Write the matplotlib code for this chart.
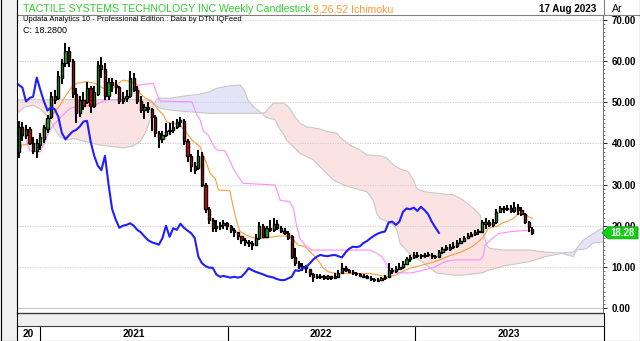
import pandas as pd
import matplotlib
matplotlib.use("Agg")
import matplotlib.pyplot as plt
from matplotlib.lines import Line2D
from matplotlib.patches import Rectangle, Polygon

plt.rcParams["font.family"] = ["Liberation Sans", "DejaVu Sans"]

# weekly candles, first week ending 20 Nov 2020, last week ending 18 Aug 2023
dates = pd.date_range("2020-11-20", periods=144, freq="W-FRI")

opens = [38, 44, 42, 43.5, 40, 38.2, 39.5, 41, 43.5, 46.5, 51.5, 51,
         56, 59.5, 62.5, 60, 52, 47.5, 50.5, 50, 53.5, 49, 52, 59,
         58, 51.5, 55, 54.2, 53.6, 50.2, 51, 51.4, 56, 53, 50.2, 48,
         48.8, 48.3, 46.5, 42.5, 41, 42, 42.9, 43.3, 44.1, 45.3, 45.5, 40.5,
         37, 34.6, 34, 37, 30, 24, 21.5, 19.5, 20, 20.2, 20.6, 20,
         19, 18.4, 17.4, 16.5, 16, 15.5, 15.4, 17, 20, 17.3, 19.4, 19,
         20.5, 19.5, 18.8, 18.2, 17.5, 12.5, 10.9, 10.2, 9.8, 9.5, 8.2, 7.6,
         7.8, 7.6, 7.4, 7.6, 7.4, 7.6, 8.5, 9.7, 9.2, 8.8, 8.5, 8.2,
         7.8, 7.6, 7.4, 7, 6.6, 6.8, 7.2, 7.5, 9.2, 9, 9.6, 10,
         10.8, 11.8, 12.5, 12.9, 12.7, 12.6, 12.8, 12.9, 12.6, 12.3, 13.5, 14.4,
         14.3, 14.8, 15, 15.8, 16.3, 17, 17.6, 18.1, 18.4, 18.6, 20.5, 21,
         20.2, 21, 23.4, 24.2, 24, 24.4, 23.6, 24.6, 23.8, 22.8, 21, 19.3]
highs = [45.5, 45.2, 44.5, 44, 41.5, 41, 42.5, 44.5, 47, 52.5, 53, 57.5,
         60.5, 64.5, 63.5, 60.5, 53.5, 51.5, 52.5, 55, 54, 54, 60, 61,
         59.5, 56, 56, 55.5, 54, 52.5, 53, 57.5, 57, 54, 51.5, 49.5,
         50, 48.5, 47, 43, 43, 45, 45, 45.5, 46, 46.5, 46, 41,
         37.5, 35.5, 38.4, 38, 30.5, 24.5, 22, 21.5, 21, 21.4, 21, 20.2,
         19.5, 18.6, 17.6, 17, 16.5, 16.2, 18, 21, 20.5, 20, 21.5, 21.8,
         21.5, 20, 19.5, 18.8, 17.8, 14.6, 11.5, 10.9, 10.5, 9.5, 8.5, 8.3,
         8.2, 8, 8, 7.9, 8.5, 9.2, 10.9, 10.2, 9.5, 9.2, 8.8, 8.6,
         8.2, 8, 7.8, 7.4, 7.3, 7.6, 8, 11, 9.8, 10.2, 10.9, 11.5,
         12.4, 13, 13.5, 13.5, 13.2, 13.4, 13.6, 13.3, 13, 14, 14.8, 15.4,
         15.6, 16, 16.5, 17, 17.6, 18.2, 18.6, 18.9, 19.2, 21.4, 22, 21.4,
         21.6, 24, 24.8, 24.8, 25, 25, 25.8, 25.4, 24.5, 23, 21.2, 19.6]
lows = [36.5, 40.5, 41, 39.5, 37.5, 36.5, 38.5, 40, 42.5, 46, 49.5, 50.5,
        54.5, 58.5, 58.5, 51, 45, 46.5, 48, 49.5, 47.5, 48.5, 51.5, 56,
        50.5, 50.5, 52.5, 52, 49.5, 49.5, 50, 51, 52.5, 49.5, 47.5, 46,
        47.5, 43, 41.5, 39, 40, 41.5, 42, 42.5, 43.5, 44, 39.5, 35.5,
        33, 32.5, 33.5, 29.5, 23, 20.5, 18.5, 18.5, 19, 19.3, 19, 18.3,
        17.3, 16.5, 15.5, 15, 14.8, 14, 15, 16.5, 17, 17, 18.5, 18.5,
        19, 18.3, 17.8, 16.5, 12, 10.3, 9.5, 9, 8.5, 7.5, 6.3, 7,
        7, 6.8, 6.9, 6.8, 7, 7.4, 8.3, 8.8, 8.5, 8, 7.8, 7.5,
        7.2, 7, 6.6, 6.3, 6.3, 6.5, 6.9, 7.3, 8.3, 8.6, 9.2, 9.6,
        10.5, 11.3, 12, 12.1, 12, 12.2, 12.3, 12, 11.8, 12.1, 13.2, 13.8,
        13.9, 14.4, 14.6, 15.5, 16, 16.8, 17.2, 17.6, 17.8, 18.2, 19.3, 19.7,
        19.8, 20.5, 23, 23.2, 23.5, 23.2, 23.2, 22.6, 22.4, 20.5, 18.5, 17.7]
closes = [44, 42, 43.5, 40, 38.2, 40, 41.5, 44, 46.2, 51.5, 50.5, 56.5,
          59.5, 62.5, 60, 52, 47.5, 50.5, 49, 53.5, 49, 52.5, 59, 58,
          51.5, 55, 54.2, 53.6, 50.2, 51, 51.4, 56, 53, 50.2, 48, 48.8,
          48.3, 46.5, 42.5, 41, 42, 42.9, 43.3, 44.1, 45.3, 45.5, 40.5, 37,
          34.6, 33.5, 37, 30, 24, 21.5, 19.5, 20, 20.2, 20.6, 20, 19,
          18.4, 17.4, 16.5, 16, 15.7, 15.4, 17, 20, 17.3, 19.4, 19, 20.5,
          19.5, 18.8, 18.2, 17, 12.5, 10.9, 10.2, 9.8, 9.8, 8.2, 7.6, 7.8,
          7.6, 7.4, 7.6, 7.4, 7.6, 8.5, 9.7, 9.2, 8.8, 8.5, 8.2, 7.8,
          7.6, 7.4, 7, 6.8, 6.8, 7.2, 7.6, 9.2, 9, 9.6, 10, 10.8,
          11.8, 12.5, 12.9, 12.7, 12.6, 12.8, 12.9, 12.6, 12.3, 13.5, 14.4, 14.9,
          14.8, 15, 15.8, 16.3, 17, 17.6, 18.1, 18.4, 18.6, 20.8, 21, 20.2,
          21, 23.4, 24.2, 24, 24.4, 23.6, 24.6, 23.8, 22.8, 21, 19.6, 18.28]

# Ichimoku lines (week number, value)
tenkan_wk = [0, 0.8, 4.5, 5.9, 6.4, 6.8, 7.8, 8.7, 10.1, 11.5, 12.9, 14.7, 16.1,
             18.9, 21.2, 23.5, 25.9, 27.7, 29.1, 31, 32.8, 33.8, 35.2, 36.5,
             37.9, 38.9, 40.3, 41.2, 42.6, 44.9, 46.8, 48.2, 50.5, 51.9, 53.3,
             54.7, 55.6, 58.8, 59.7, 60.7, 61.6, 63.5, 64.9, 66.7, 68.6, 72.3,
             75.1, 76.1, 76.9, 77.9, 79.7, 81.1, 82.5, 83.9, 84.8, 86.2, 88.1,
             92.3, 97.8, 101.5, 103.4, 104.8, 106.7, 109, 112.7, 117.3, 118.7,
             123.4, 126.2, 128, 129.4, 130.8, 133.1, 134.5, 136.4, 137.7, 138.7,
             139.6, 141, 141.9, 143]
tenkan = [37, 39.6, 40, 40, 41.6, 44, 45.3, 46.5, 47.7, 49.3, 51.4, 53.6, 54.6,
          55, 54.6, 53.4, 53, 54.6, 55.4, 55, 54.4, 52.2, 51, 50.5,
          49.3, 48.1, 46.9, 45.3, 44.9, 44.5, 42.5, 40.8, 39.2, 36, 32.7,
          31.5, 28.7, 28.5, 24.6, 21, 18.6, 17.7, 17.2, 16.9, 17, 17.5,
          17.5, 17, 16.1, 15.3, 14.9, 13.7, 12.5, 10.9, 9.7, 8.8, 8.5,
          8.4, 8.4, 7.8, 7.6, 8, 8.8, 9.7, 10.5, 11.7, 12.3,
          13.7, 14.9, 16.1, 17.3, 19.4, 19.8, 20.6, 21.2, 21.8, 22.6,
          23, 23, 22.2, 21.8]
kijun_wk = [-0.5, 0.9, 1.7, 3.1, 5.9, 7.3, 8.2, 9.6, 10.6, 12.4, 14.3, 16.1,
            21.2, 23.1, 24.9, 30.4, 31.9, 33.3, 37.5, 38.4, 39.3, 48.2, 49.6,
            50.5, 51.4, 52.8, 54.2, 55.1, 57.4, 58.4, 59.7, 61.1, 62.5, 71.4,
            72.8, 75.5, 76.5, 77.4, 78.3, 79.7, 81.6, 97.8, 99.7, 101.1, 102,
            102.9, 104.2, 109, 111.8, 115.9, 118.7, 121.5, 128.5, 129.3, 129.9,
            131.3, 133.6, 137.3, 143]
kijun = [42.3, 42, 41.6, 38.2, 37.9, 40.4, 42.5, 44.5, 45.3, 47, 48.5, 48.9,
         49.3, 50.1, 50.6, 50.6, 52.6, 54.2, 54.6, 52.2, 50.3, 50.1, 46.9,
         45.7, 43, 42, 39.5, 38.4, 38.2, 36.5, 34, 32, 30.3, 29.9,
         26.2, 25.8, 24.2, 19.8, 16.9, 15.3, 14.1, 14.1, 13.3, 12.5, 11.3,
         9.5, 8.6, 8.5, 9, 10, 11.3, 11.7, 11.7, 12.5, 15.3,
         16.5, 18.1, 18.6, 19]

cloud_wk = [-0.5, 1.7, 4, 6.4, 8.7, 10.1, 11.5, 13.3, 15.2, 18.9, 20.8, 22.6,
            26.3, 29.1, 31.9, 33.8, 35.2, 36.1, 37, 37.5, 38.5, 39.3, 42.1,
            46.8, 50.5, 53.3, 55.1, 58.8, 61.6, 62.8, 63.8, 65.5, 67.7, 68.6,
            70, 70.9, 71.4, 72.8, 73.7, 74.6, 75.5, 76.5, 76.9, 78.3, 80.2,
            82, 83.9, 85.8, 87.6, 88.5, 89.5, 90.4, 92.3, 95, 96.9, 98.7,
            99.7, 100.6, 102.5, 104.3, 105.3, 106.2, 108.5, 109.9, 110.8,
            112.7, 116.4, 121, 123.8, 126.6, 128.5, 129.4, 130.3, 131.2,
            134.9, 142.3, 146.6, 150.8, 152, 154.4, 155.4, 157.2, 158.2, 160,
            162.7, 165]
span_a = [47.3, 48.9, 49.3, 48.1, 45.7, 43.3, 41.6, 40.8, 41.2, 40.4, 40, 39.6,
          39.2, 38.9, 39.4, 40.5, 42.5, 44.5, 47, 49.4, 50.8, 51, 51,
          51.6, 52, 52.6, 53.4, 54, 54.2, 53, 50.6, 48.8, 47.3, 46.5,
          46, 45.9, 45.7, 43.3, 42.3, 40.8, 40, 39.2, 38.8, 37.6, 36.8,
          36, 34.3, 32.7, 31.1, 30.7, 30.3, 30, 29.4, 28.7, 28.3, 26.2,
          23, 21.8, 21, 20.2, 19, 15.7, 13.5, 12.5, 12,
          11, 8.5, 8, 8, 8.3, 8.5, 8.7, 9, 9.3,
          10.2, 11.3, 12.5, 13.2, 13.5, 13.6, 14.5, 16.5, 17, 18.1,
          19.6, 20]
span_b = [50.6, 50.6, 50.6, 50.6, 50.6, 50.6, 50.6, 50.6, 50.6, 50.6, 50.6, 50.6,
          50.6, 50.6, 50.6, 50.6, 50.6, 50.6, 50.4, 49.8, 49, 48.6, 48.1,
          47.7, 47.5, 47.3, 47.3, 47.3, 47.3, 47.3, 47.3, 47.3, 47.3, 47.5,
          48.9, 49.8, 49.8, 49.8, 49.8, 49.2, 48.5, 47, 46.5, 44.9, 44,
          43.8, 43.5, 42.9, 42.6, 42.5, 41.5, 40.8, 39.6, 38.4, 37.2, 37.1,
          37, 37, 36.4, 34.8, 34.2, 33.8, 33.1, 31.1, 29.1,
          28.3, 27.9, 27.5, 26.2, 24.2, 22.6, 18.1, 15.3, 14.5,
          14.1, 14.1, 13.6, 13.4, 13.1, 12.5, 14.1, 14.3, 14.5, 15.8,
          16.1, 16.3]

years = ["20", "2021", "2022", "2023"]
y_ticks = [0, 10, 20, 30, 40, 50, 60, 70]
last_close = closes[-1]

W, H = 640, 341
fig = plt.figure(figsize=(W / 100, H / 100), dpi=100)
fig.patch.set_facecolor("white")


def fx(px):
    return px / W


def fy(py):
    return 1 - py / H


# left strip and bottom strip
fig.add_artist(Rectangle((0, 0), fx(16.5), 1, transform=fig.transFigure,
                         facecolor="#f0f0f0", edgecolor="none"))
fig.add_artist(Rectangle((fx(16.5), fy(326)), fx(603 - 16.5), fy(313) - fy(326),
                         transform=fig.transFigure, facecolor="#f0f0f0",
                         edgecolor="none"))

ax = fig.add_axes([fx(17), fy(313), fx(603 - 17), fy(15) - fy(313)])
x = list(range(len(closes)))
ax.set_xlim(-0.5, 162.7)
ax.set_ylim(-1.2, 71.2)

# cloud
ax.fill_between(cloud_wk, span_a, span_b, where=[a < b for a, b in zip(span_a, span_b)],
                interpolate=True, facecolor="#fbe3e3", edgecolor="none", zorder=1)
ax.fill_between(cloud_wk, span_a, span_b, where=[a >= b for a, b in zip(span_a, span_b)],
                interpolate=True, facecolor="#e4e4f8", edgecolor="none", zorder=1)
ax.plot(cloud_wk, span_a, color="#c8c8c8", lw=0.8, zorder=2)
ax.plot(cloud_wk, span_b, color="#c8c8c8", lw=0.8, zorder=2)

# grid
for v in y_ticks[1:]:
    ax.axhline(v, color="#c8c8c8", lw=0.6, ls=(0, (1.5, 1.5)), zorder=3)
ax.axhline(0, color="#c8c8c8", lw=0.8, zorder=3)

ax.plot(tenkan_wk, tenkan, color="#ff9a3c", lw=0.8, zorder=4)
ax.plot(kijun_wk, kijun, color="#ff8cff", lw=0.8, zorder=4)

# candles
bottoms = [min(o, c) for o, c in zip(opens, closes)]
heights = [max(abs(c - o), 0.3) for o, c in zip(opens, closes)]
colors = ["#00d000" if c >= o else "#f00000" for o, c in zip(opens, closes)]
ax.vlines(x, lows, highs, color="black", lw=1.4, zorder=5)
ax.bar(x, heights, bottom=bottoms, width=0.62, color=colors, edgecolor="black",
       linewidth=1.0, zorder=6)

# lagging span: closes shifted back 26 weeks
ax.plot([i - 26 for i in x], closes, color="#1e1eff", lw=1.5, zorder=7)

for s in ["top", "left", "bottom"]:
    ax.spines[s].set_visible(False)
ax.spines["right"].set_color("#555555")
ax.spines["right"].set_linewidth(0.6)
ax.set_xticks([])
ax.yaxis.tick_right()
ax.set_yticks(y_ticks)
ax.set_yticks(range(0, 71), minor=True)
ax.set_yticklabels(["%.2f" % v for v in y_ticks], fontsize=7.0, fontweight="bold")
ax.tick_params(axis="y", which="major", length=3, width=0.6, pad=3.2, colors="black")
ax.tick_params(axis="y", which="minor", length=1.5, width=0.5, color="#555555")
ax.patch.set_alpha(0)

# price tag
tag_y = ax.transData.transform((0, last_close))[1]
ty = tag_y / fig.bbox.height
fig.add_artist(Polygon([(fx(602), ty), (fx(608), ty + 6 / H), (fx(638), ty + 6 / H),
                        (fx(638), ty - 6 / H), (fx(608), ty - 6 / H)],
                       closed=True, transform=fig.transFigure, facecolor="#10d010",
                       edgecolor="#10a010", lw=0.6, zorder=10))
fig.text(fx(623), ty, "%.2f" % last_close, color="white", fontsize=7.0,
         fontweight="bold", ha="center", va="center", zorder=11)


# frame lines
def hline(y, x0, x1, c="black", lw=0.8):
    fig.add_artist(Line2D([fx(x0), fx(x1)], [fy(y), fy(y)], color=c, lw=lw))


def vline(xp, y0, y1, c="black", lw=0.8):
    fig.add_artist(Line2D([fx(xp), fx(xp)], [fy(y0), fy(y1)], color=c, lw=lw))


hline(15, 16.5, 640, "#808080")
hline(313, 16.5, 603, "#404040", 1.0)
hline(326, 16.5, 603, "#404040", 0.8)
vline(16.5, 0, 341)
vline(603.5, 0, 15, "#808080")
vline(603.5, 313, 341)
vline(0.5, 0, 341)
vline(639.5, 0, 341)
hline(340.5, 0, 640)

# header texts
fig.text(fx(23), fy(12), "TACTILE SYSTEMS TECHNOLOGY INC Weekly Candlestick",
         color="#33cc33", fontsize=7.6, va="baseline")
fig.text(fx(313), fy(12), "9,26,52 Ichimoku", color="#ff9933", fontsize=7.6,
         va="baseline")
fig.text(fx(596), fy(12), "17 Aug 2023", color="black", fontsize=7.1,
         fontweight="bold", ha="right", va="baseline")
fig.text(fx(612), fy(12), "Ar", color="black", fontsize=7.6, va="baseline")
fig.text(fx(23), fy(21), "Updata Analytics 10 - Professional Edition : Data by DTN IQFeed",
         color="black", fontsize=5.4, va="baseline")
fig.text(fx(23), fy(33), "C: %.4f" % last_close, color="black", fontsize=6.5,
         va="baseline")

# year strip
yax = fig.add_axes([fx(17), fy(341), fx(603 - 17), fy(326) - fy(341)])
yax.set_xlim(ax.get_xlim())
yax.set_ylim(0, 1)
yax.axis("off")
bounds = [-0.5]
for yr in (2021, 2022, 2023):
    b = (pd.Timestamp(yr, 1, 1) - dates[0]).days / 7
    bounds.append(b)
    yax.axvline(b, color="black", lw=0.8)
bounds.append(162.7)
for k, lab in enumerate(years):
    yax.text((bounds[k] + bounds[k + 1]) / 2, 0.45, lab, ha="center", va="center",
             fontsize=7.2, fontweight="bold")

fig.savefig("out.png", dpi=100)
